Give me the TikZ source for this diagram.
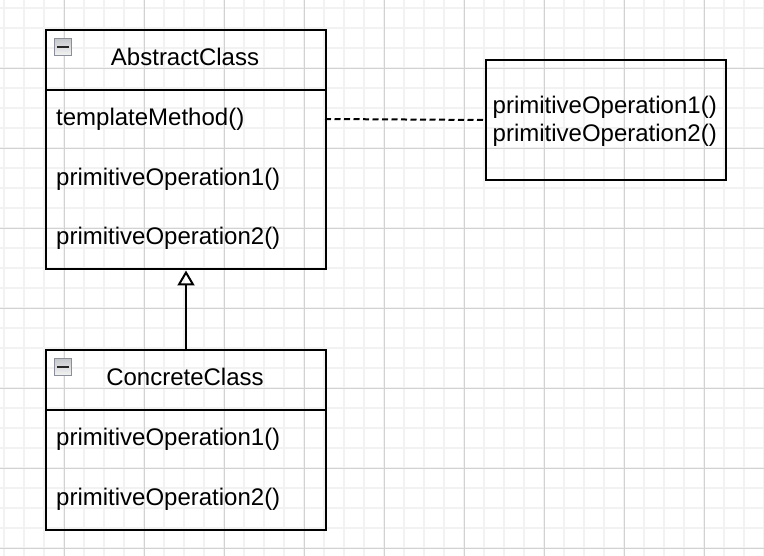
\documentclass[tikz,border=0pt]{standalone}
\usepackage{fontspec}
\setmainfont{Liberation Sans}
\usetikzlibrary{arrows.meta}
\definecolor{gridminor}{HTML}{F2F2F2}
\definecolor{gridmajor}{HTML}{D2D2D2}
\definecolor{iconborder}{HTML}{8A8F99}
\definecolor{icontop}{HTML}{C4C6CA}
\definecolor{iconbot}{HTML}{F4F4F4}
\begin{document}
\begin{tikzpicture}[x=1pt,y=-1pt,
  font=\fontsize{24}{28}\selectfont,
  box/.style={draw=black, line width=2pt, minimum width=280pt, inner sep=0pt, anchor=north west},
  txt/.style={inner sep=0pt, anchor=base west},
  title/.style={inner sep=0pt, anchor=base},
  iconbox/.style={draw=iconborder, line width=1.2pt, top color=icontop, bottom color=iconbot, minimum size=17pt, inner sep=0pt},
  minusbar/.style={fill=black!85},
  gmin/.style={gridminor, line width=2pt},
  gmaj/.style={gridmajor, line width=1pt}]
\useasboundingbox (0,0) rectangle (764,556);
\fill[white] (0,0) rectangle (764,556);
% grid
\foreach \x in {4,24,...,764} \draw[gmin] (\x,0) -- (\x,556);
\foreach \y in {8,28,...,548} \draw[gmin] (0,\y) -- (764,\y);
\foreach \x in {64.5,144.5,...,704.5} \draw[gmaj] (\x,0) -- (\x,556);
\foreach \y in {68.5,148.5,...,548.5} \draw[gmaj] (0,\y) -- (764,\y);

% AbstractClass
\node[box, minimum height=60pt] (abshead) at (45,29) {};
\node[box, minimum height=179.5pt] (absbody) at (45,89) {};
\node[iconbox] (absicon) at (63,47) {};
\fill[minusbar] (57.3,46) rectangle (68.7,48.2);
\node[title] (abstitle) at (185,66) {AbstractClass};
\node[txt] (tm) at (56,126) {templateMethod()};
\node[txt] (ap1) at (56,185.5) {primitiveOperation1()};
\node[txt] (ap2) at (56,245) {primitiveOperation2()};
\coordinate (tmport) at (325,119);

% ConcreteClass
\node[box, minimum height=60pt] (conhead) at (45,349) {};
\node[box, minimum height=119.5pt] (conbody) at (45,409) {};
\node[iconbox] (conicon) at (63,367) {};
\fill[minusbar] (57.3,366) rectangle (68.7,368.2);
\node[title] (contitle) at (185,386) {ConcreteClass};
\node[txt] (cp1) at (56,446) {primitiveOperation1()};
\node[txt] (cp2) at (56,505.5) {primitiveOperation2()};

% note box
\node[box, minimum width=240pt, minimum height=120pt] (note) at (485,59) {};
\node[txt] (n1) at (492.5,114) {primitiveOperation1()};
\node[txt] (n2) at (492.5,142) {primitiveOperation2()};

% connectors
\draw[line width=2pt, dash pattern=on 6pt off 3.5pt] (tmport) -- (note.west);
\draw[line width=2pt, -{Triangle[open, length=15pt, width=17pt]}] (conhead.north) -- (absbody.south);
\end{tikzpicture}
\end{document}
